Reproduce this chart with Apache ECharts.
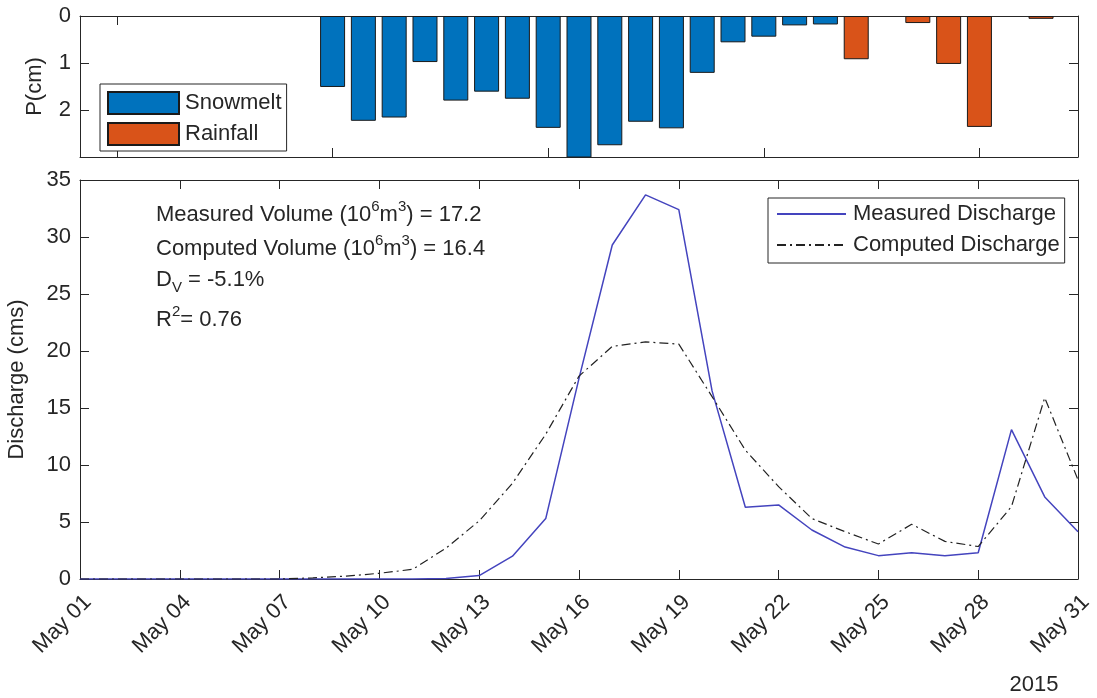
<!DOCTYPE html>
<html>
<head>
<meta charset="utf-8">
<script src="https://cdn.jsdelivr.net/npm/echarts@6/dist/echarts.min.js"></script>
<style>html,body{margin:0;padding:0;background:#fff;}#c{width:1097px;height:698px;}</style>
</head>
<body>
<div id="c"></div>
<script>
// ---- data ----
const dates = ['May 01','May 02','May 03','May 04','May 05','May 06','May 07','May 08','May 09','May 10',
  'May 11','May 12','May 13','May 14','May 15','May 16','May 17','May 18','May 19','May 20',
  'May 21','May 22','May 23','May 24','May 25','May 26','May 27','May 28','May 29','May 30','May 31'];
const days = [1,2,3,4,5,6,7,8,9,10,11,12,13,14,15,16,17,18,19,20,21,22,23,24,25,26,27,28,29,30,31];
const snowmelt = [null,null,null,null,null,null,null,
  1.51,2.23,2.16,0.98,1.80,1.61,1.76,2.38,3.05,2.75,2.25,2.39,1.21,0.56,0.44,0.20,0.18,
  null,null,null,null,null,null,null];
const rainfall = [null,null,null,null,null,null,null,null,null,null,null,null,null,null,null,null,
  null,null,null,null,null,null,null,null,
  0.92,null,0.15,1.02,2.36,null,0.06];
const measured = [0,0,0,0,0,0,0,0,0,0,0,0.05,0.3,2.0,5.3,17.6,29.3,33.7,32.4,16.5,6.3,6.5,4.3,2.8,2.05,2.3,2.05,2.3,13.1,7.2,4.15];
const computed = [0,0,0,0,0,0,0,0.1,0.25,0.5,0.85,2.7,5.1,8.4,12.7,17.8,20.4,20.8,20.6,16.0,11.3,8.1,5.3,4.15,3.07,4.8,3.3,2.85,6.35,15.9,8.7];
const topTicks = [1,8,15,22,29];
const pTicks = [0,1,2];
const yearLabel = '2015';

// ---- chart ----
const FONT = 'Liberation Sans, Arial, sans-serif';
const TXT = '#262626';
const AX = '#262626';
const FS = 22;
const axLine = {show:true, onZero:false, lineStyle:{color:AX, width:1}};
const tickIn = {show:true, inside:true, length:9, lineStyle:{color:AX, width:1}};

const chart = echarts.init(document.getElementById('c'), null, {renderer:'canvas'});
const option = {
  animation:false,
  backgroundColor:'#fff',
  textStyle:{fontFamily:FONT},
  grid:[
    {left:80, top:16, width:998, height:141, containLabel:false, outerBoundsMode:'none'},
    {left:80, top:180, width:998, height:399, containLabel:false, outerBoundsMode:'none'}
  ],
  xAxis:[
    {type:'value', gridIndex:0, min:-0.2, max:32.2, position:'bottom',
      axisLine:axLine, axisTick:Object.assign({}, tickIn, {customValues:topTicks}),
      axisLabel:{show:false}, splitLine:{show:false}},
    {type:'category', gridIndex:1, data:dates, boundaryGap:false, position:'bottom',
      axisLine:axLine, axisTick:Object.assign({}, tickIn, {interval:2}),
      axisLabel:{interval:2, rotate:45, fontSize:FS, color:TXT, fontFamily:FONT, margin:12, verticalAlign:'top'},
      splitLine:{show:false}},
    {type:'category', gridIndex:1, data:dates, boundaryGap:false, position:'top',
      axisLine:axLine, axisTick:Object.assign({}, tickIn, {interval:2}),
      axisLabel:{show:false}, splitLine:{show:false}},
    {type:'value', gridIndex:0, min:-0.2, max:32.2, position:'top',
      axisLine:axLine, axisTick:Object.assign({}, tickIn, {customValues:topTicks}),
      axisLabel:{show:false}, splitLine:{show:false}}
  ],
  yAxis:[
    {type:'value', gridIndex:0, min:0, max:3, inverse:true, position:'left',
      axisLine:axLine, axisTick:Object.assign({}, tickIn, {customValues:pTicks}),
      axisLabel:{customValues:pTicks, fontSize:FS, color:TXT, fontFamily:FONT, margin:9},
      splitLine:{show:false},
      name:'P(cm)', nameLocation:'middle', nameRotate:90, nameGap:34,
      nameTextStyle:{fontSize:FS, color:TXT, fontFamily:FONT}},
    {type:'value', gridIndex:1, min:0, max:35, interval:5, position:'left',
      axisLine:axLine, axisTick:tickIn,
      axisLabel:{fontSize:FS, color:TXT, fontFamily:FONT, margin:9},
      splitLine:{show:false},
      name:'Discharge (cms)', nameLocation:'middle', nameRotate:90, nameGap:52,
      nameTextStyle:{fontSize:FS, color:TXT, fontFamily:FONT}},
    {type:'value', gridIndex:1, min:0, max:35, interval:5, position:'right',
      axisLine:axLine, axisTick:tickIn, axisLabel:{show:false}, splitLine:{show:false}},
    {type:'value', gridIndex:0, min:0, max:3, inverse:true, position:'right',
      axisLine:axLine, axisTick:Object.assign({}, tickIn, {customValues:pTicks}),
      axisLabel:{show:false}, splitLine:{show:false}}
  ],
  legend:[
    {data:['Snowmelt','Rainfall'], orient:'vertical', left:100, top:84,
      padding:[7,5,5,7], itemGap:7, itemWidth:71, itemHeight:22, icon:'rect',
      backgroundColor:'#fff', borderColor:AX, borderWidth:1, borderRadius:0,
      textStyle:{fontSize:FS, color:TXT, fontFamily:FONT, lineHeight:22, padding:[0,0,0,1]}},
    {data:['Measured Discharge','Computed Discharge'], orient:'vertical', left:768, top:198,
      padding:[4,5,6,8], itemGap:7, itemWidth:69, itemHeight:14,
      itemStyle:{opacity:0},
      backgroundColor:'#fff', borderColor:AX, borderWidth:1, borderRadius:0,
      textStyle:{fontSize:FS, color:TXT, fontFamily:FONT, lineHeight:24, padding:[0,0,0,2]}}
  ],
  series:[
    {name:'Snowmelt', type:'bar', xAxisIndex:0, yAxisIndex:0, stack:'p', barWidth:25,
      itemStyle:{color:'#0072BD', borderColor:'#1a1a1a', borderWidth:1},
      data:days.map((d,i)=>[d, snowmelt[i]])},
    {name:'Rainfall', type:'bar', xAxisIndex:0, yAxisIndex:0, stack:'p', barWidth:25,
      itemStyle:{color:'#D95319', borderColor:'#1a1a1a', borderWidth:1},
      data:days.map((d,i)=>[d, rainfall[i]])},
    {name:'Measured Discharge', type:'line', xAxisIndex:1, yAxisIndex:1,
      symbol:'none', showSymbol:false, lineStyle:{color:'#4444BE', width:1.5}, itemStyle:{color:'#4444BE'},
      data:measured},
    {name:'Computed Discharge', type:'line', xAxisIndex:1, yAxisIndex:1,
      symbol:'none', showSymbol:false, lineStyle:{color:'#222', width:1.2, type:[9,4,2,4]}, itemStyle:{color:'#222'},
      data:computed}
  ],
  graphic:[
    {type:'text', x:156, y:215, style:{
      text:'{a|Measured Volume (10}{s|6}{a|m}{s|3}{a|) = 17.2}', verticalAlign:'middle',
      rich:{a:{fontSize:FS, fontFamily:FONT, fill:TXT, color:TXT},
            s:{fontSize:15, fontFamily:FONT, fill:TXT, color:TXT, padding:[0,0,16,0]}}}},
    {type:'text', x:156, y:249, style:{
      text:'{a|Computed Volume (10}{s|6}{a|m}{s|3}{a|) = 16.4}', verticalAlign:'middle',
      rich:{a:{fontSize:FS, fontFamily:FONT, fill:TXT, color:TXT},
            s:{fontSize:15, fontFamily:FONT, fill:TXT, color:TXT, padding:[0,0,16,0]}}}},
    {type:'text', x:156, y:280, style:{
      text:'{a|D}{b|V}{a| = -5.1%}', verticalAlign:'middle',
      rich:{a:{fontSize:FS, fontFamily:FONT, fill:TXT, color:TXT},
            b:{fontSize:15, fontFamily:FONT, fill:TXT, color:TXT, padding:[16,0,0,0]}}}},
    {type:'text', x:156, y:320, style:{
      text:'{a|R}{s|2}{a|= 0.76}', verticalAlign:'middle',
      rich:{a:{fontSize:FS, fontFamily:FONT, fill:TXT, color:TXT},
            s:{fontSize:15, fontFamily:FONT, fill:TXT, color:TXT, padding:[0,0,16,0]}}}},
    {type:'text', x:1034, y:685, style:{text:yearLabel, align:'center', verticalAlign:'middle',
      fontSize:FS, fontFamily:FONT, fill:TXT}}
  ]
};
chart.setOption(option);
</script>
</body>
</html>
